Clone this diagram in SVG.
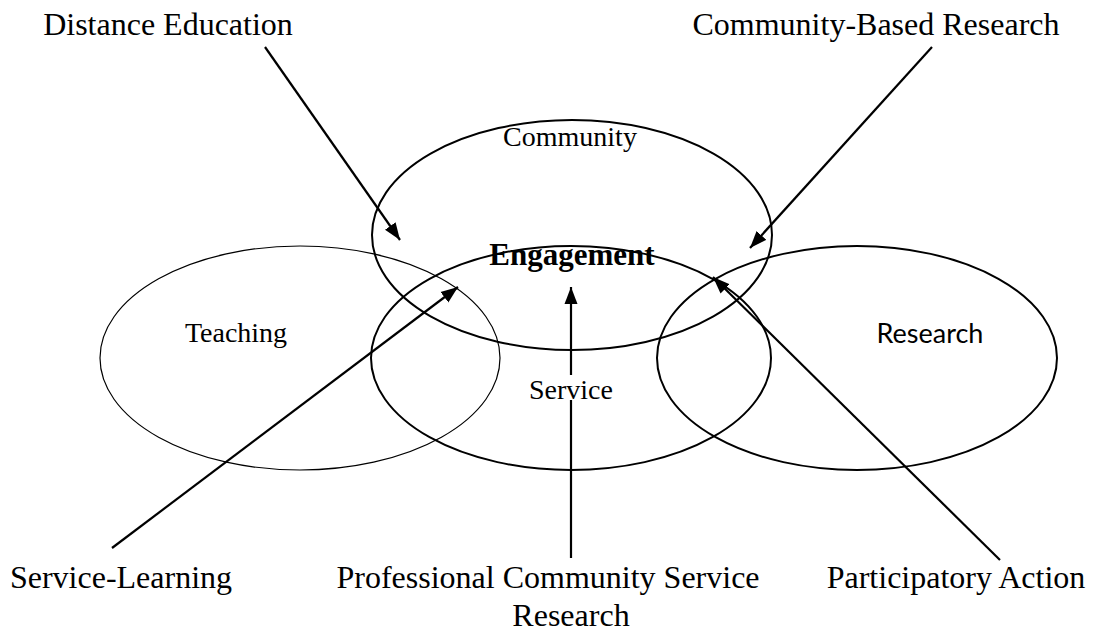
<svg xmlns="http://www.w3.org/2000/svg" width="1102" height="636" viewBox="0 0 1102 636">
<defs>
<marker id="ah" markerUnits="userSpaceOnUse" markerWidth="18" markerHeight="14" refX="17" refY="7" orient="auto">
<path d="M0,0.5 L17,7 L0,13.5 z" fill="#000"/>
</marker>
<style>
.ell{fill:none;stroke:#000;stroke-width:2}
.thin{stroke-width:1.2}
.conn line{stroke:#000;stroke-width:2.2;marker-end:url(#ah)}
text{text-anchor:middle}
.t{font-family:"Liberation Serif","Times New Roman",serif;font-size:32px;fill:#000}
.m{font-family:"Liberation Serif","Times New Roman",serif;font-size:28px;fill:#000}
.b{font-weight:bold;font-size:31px}
.s{font-family:Lato,"Open Sans","Liberation Sans",sans-serif;font-size:27px;fill:#000}
</style>
</defs>
<rect width="1102" height="636" fill="#fff"/>
<g id="connectors" class="conn">
<line x1="265" y1="47" x2="400" y2="240"/>
<line x1="932" y1="47" x2="750" y2="248"/>
<line x1="112" y1="548" x2="458" y2="287"/>
<line x1="571" y1="558" x2="571" y2="287"/>
<line x1="1000" y1="560" x2="713" y2="277"/>
</g>
<g id="teaching"><ellipse class="ell thin" cx="300" cy="358" rx="200" ry="112"/><text class="m" x="236" y="342">Teaching</text></g>
<g id="community"><ellipse class="ell" cx="572" cy="235" rx="200" ry="115"/><text class="m" x="570" y="146">Community</text></g>
<g id="service"><ellipse class="ell" cx="571" cy="358" rx="200" ry="112"/><rect x="560" y="375" width="24" height="25" fill="#fff"/><text class="m" x="571" y="399">Service</text></g>
<g id="research"><ellipse class="ell" cx="857" cy="358" rx="200" ry="112"/><text class="s" x="930" y="343">Research</text></g>
<g id="engagement"><text class="m b" x="572" y="265">Engagement</text></g>
<g id="distance-education"><text class="t" x="168" y="35">Distance Education</text></g>
<g id="community-based-research"><text class="t" x="876" y="35">Community-Based Research</text></g>
<g id="service-learning"><text class="t" x="121" y="588">Service-Learning</text></g>
<g id="professional"><text class="t" x="548" y="588">Professional Community Service</text><text class="t" x="571" y="626">Research</text></g>
<g id="participatory-action"><text class="t" x="956" y="588">Participatory Action</text></g>
</svg>
